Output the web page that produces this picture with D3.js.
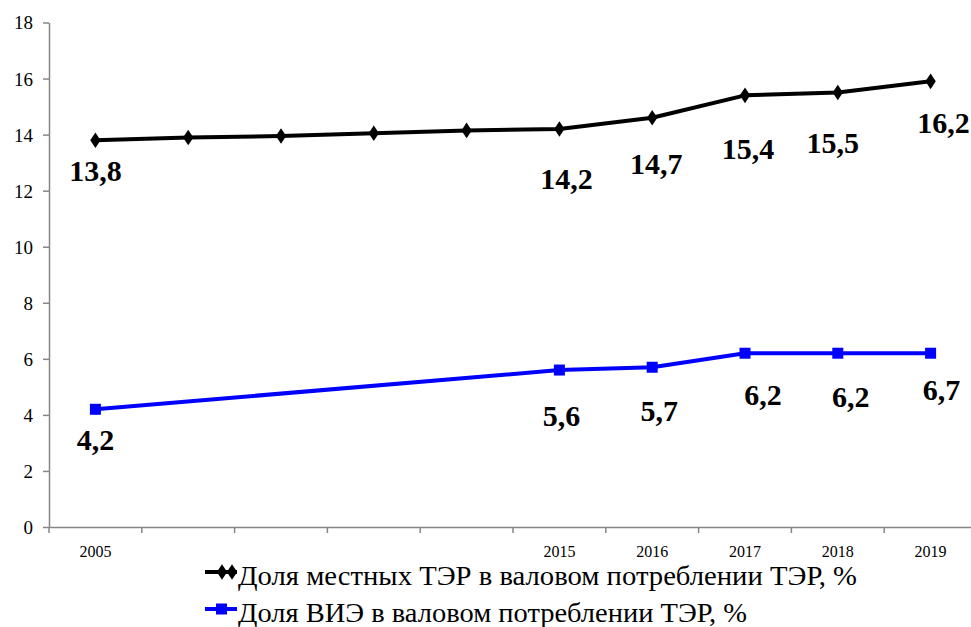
<!DOCTYPE html>
<html>
<head>
<meta charset="utf-8">
<script src="https://cdn.jsdelivr.net/npm/d3@7"></script>
<style>
  html, body { margin: 0; padding: 0; background: #fff; }
  svg { display: block; }
</style>
</head>
<body>
<svg id="chart" width="971" height="627"></svg>
<script>
// ---- data ----
const categories = ["2005", "2006", "2007", "2008", "2009", "2015", "2016", "2017", "2018", "2019"];
const tickLabels = ["2005", "", "", "", "", "2015", "2016", "2017", "2018", "2019"];
const yTicks = [0, 2, 4, 6, 8, 10, 12, 14, 16, 18];
const localShare = [13.8, 13.9, 13.95, 14.05, 14.15, 14.2, 14.6, 15.4, 15.5, 15.9];
const localLabels = ["13,8", null, null, null, null, "14,2", "14,7", "15,4", "15,5", "16,2"];
const resShare = [4.2, null, null, null, null, 5.6, 5.7, 6.2, 6.2, 6.2];
const resLabels = ["4,2", null, null, null, null, "5,6", "5,7", "6,2", "6,2", "6,7"];
const seriesNames = ["Доля местных ТЭР в валовом потреблении ТЭР, %", "Доля ВИЭ в валовом потреблении ТЭР, %"];

// label placement offsets (style, not data)
const localLabelDx = [0, 0, 0, 0, 0, 7, 4, 3, -5, 13];
const localLabelDy = [41, 0, 0, 0, 0, 60, 56, 64, 60, 52];
const resLabelDx = [0, 0, 0, 0, 0, 2, 7, 18, 13, 11];
const resLabelDy = [41, 0, 0, 0, 0, 56, 54, 52, 54, 47];

const FONT = "'Liberation Serif', 'DejaVu Serif', 'Noto Serif', serif";

const svg = d3.select("#chart");
const plotLeft = 49, plotRight = 977, plotTop = 22.5, plotBottom = 527;

const x = d3.scaleBand().domain(categories).range([plotLeft, plotRight]).paddingInner(0).paddingOuter(0);
const y = d3.scaleLinear().domain([0, 18]).range([plotBottom, plotTop]);
const cx = c => x(c) + x.bandwidth() / 2;

const axisColor = "#868686";

// y axis
const yAxis = svg.append("g").attr("transform", `translate(${plotLeft},0)`)
  .call(d3.axisLeft(y).tickValues(yTicks).tickSize(6).tickSizeOuter(0).tickFormat(d3.format("d")));
yAxis.attr("font-family", null);
yAxis.select(".domain").attr("stroke", axisColor).attr("stroke-width", 1.5);
yAxis.selectAll(".tick line").attr("stroke", axisColor).attr("stroke-width", 1.5);
yAxis.selectAll(".tick text").style("font-family", FONT).attr("font-size", 19).attr("fill", "#000")
  .attr("x", -16).attr("dy", "0.34em");

// x axis
const xAxis = svg.append("g").attr("transform", `translate(0,${plotBottom})`)
  .call(d3.axisBottom(x).tickSize(0).tickSizeOuter(0).tickFormat((d, i) => tickLabels[i]));
xAxis.attr("font-family", null);
xAxis.select(".domain").attr("stroke", axisColor).attr("stroke-width", 1.5);
xAxis.selectAll(".tick text").style("font-family", FONT).attr("font-size", 16).attr("fill", "#000")
  .attr("y", 19).attr("dy", "0.71em");
// boundary ticks
svg.append("g").selectAll("line")
  .data(categories)
  .join("line")
  .attr("x1", d => x(d)).attr("x2", d => x(d))
  .attr("y1", plotBottom).attr("y2", plotBottom + 6)
  .attr("stroke", axisColor).attr("stroke-width", 1.5);

// lines
const lineGen = d3.line().x(d => cx(d.c)).y(d => y(d.v));
const localData = categories.map((c, i) => ({c, v: localShare[i], l: localLabels[i], dx: localLabelDx[i], dy: localLabelDy[i]}));
const resData = categories.map((c, i) => ({c, v: resShare[i], l: resLabels[i], dx: resLabelDx[i], dy: resLabelDy[i]}));

svg.append("path").datum(localData.filter(d => d.v != null))
  .attr("d", lineGen).attr("fill", "none").attr("stroke", "#000").attr("stroke-width", 4)
  .attr("stroke-linejoin", "round");
svg.append("path").datum(resData.filter(d => d.v != null))
  .attr("d", lineGen).attr("fill", "none").attr("stroke", "#0000FF").attr("stroke-width", 4)
  .attr("stroke-linejoin", "round");

// markers
const diamond = d3.symbol().type(d3.symbolDiamond).size(70);
svg.append("g").selectAll("path")
  .data(localData.filter(d => d.v != null))
  .join("path")
  .attr("d", diamond)
  .attr("transform", d => `translate(${cx(d.c)},${y(d.v)}) scale(1.15,1)`)
  .attr("fill", "#000");

svg.append("g").selectAll("rect")
  .data(resData.filter(d => d.v != null))
  .join("rect")
  .attr("x", d => cx(d.c) - 5.5).attr("y", d => y(d.v) - 5.5)
  .attr("width", 11).attr("height", 11)
  .attr("fill", "#0000FF");

// data labels
function labels(data) {
  svg.append("g").selectAll("text")
    .data(data.filter(d => d.l != null))
    .join("text")
    .attr("x", d => cx(d.c) + d.dx)
    .attr("y", d => y(d.v) + d.dy)
    .attr("text-anchor", "middle")
    .style("font-family", FONT)
    .attr("font-weight", "bold").attr("font-size", 30)
    .attr("fill", "#000")
    .text(d => d.l);
}
labels(localData);
labels(resData);

// legend
const legend = svg.append("g");
const legendRows = [
  {name: seriesNames[0], color: "#000", type: "diamond", y: 572, len: 619},
  {name: seriesNames[1], color: "#0000FF", type: "square", y: 609, len: 509}
];
legendRows.forEach(r => {
  legend.append("line").attr("x1", 205).attr("x2", 237).attr("y1", r.y).attr("y2", r.y)
    .attr("stroke", r.color).attr("stroke-width", 4);
  if (r.type === "diamond") {
    [222, 232].forEach(px => {
      legend.append("path").attr("d", diamond)
        .attr("transform", `translate(${px},${r.y}) scale(1.15,1)`).attr("fill", r.color);
    });
  } else {
    legend.append("rect").attr("x", 216).attr("y", r.y - 5.5).attr("width", 11).attr("height", 11)
      .attr("fill", r.color);
  }
  legend.append("text").attr("x", 238).attr("y", r.y + 13)
    .style("font-family", FONT)
    .attr("font-size", 27).attr("fill", "#000")
    .attr("textLength", r.len).attr("lengthAdjust", "spacingAndGlyphs")
    .text(r.name);
});
</script>
</body>
</html>
